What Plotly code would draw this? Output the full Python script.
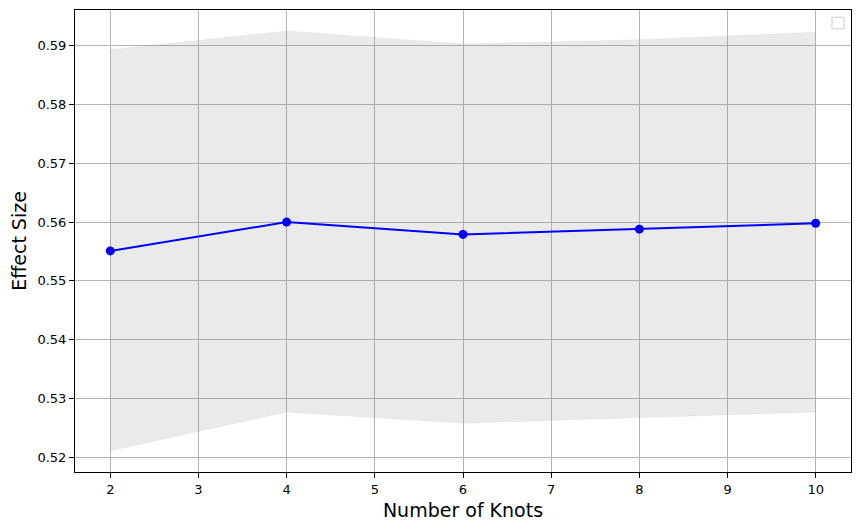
import plotly.graph_objects as go

knots = [2, 4, 6, 8, 10]
effect_mean = [0.5551, 0.5600, 0.5579, 0.5588, 0.5598]
effect_upper = [0.5893, 0.5925, 0.5903, 0.5910, 0.5923]
effect_lower = [0.5211, 0.5277, 0.5258, 0.5268, 0.5277]
x_ticks = [2, 3, 4, 5, 6, 7, 8, 9, 10]
y_ticks = [0.52, 0.53, 0.54, 0.55, 0.56, 0.57, 0.58, 0.59]

band = "rgba(128,128,128,0.17)"
fig = go.Figure()
fig.add_trace(go.Scatter(x=knots, y=effect_lower, mode="lines",
                         line=dict(color="rgba(128,128,128,0.08)", width=1),
                         showlegend=False, hoverinfo="skip"))
fig.add_trace(go.Scatter(x=knots, y=effect_upper, mode="lines", fill="tonexty",
                         fillcolor=band,
                         line=dict(color="rgba(128,128,128,0.08)", width=1),
                         showlegend=False, hoverinfo="skip"))
fig.add_trace(go.Scatter(x=knots, y=effect_mean, mode="lines+markers",
                         line=dict(color="#0000ff", width=2),
                         marker=dict(color="#0000ff", size=9),
                         showlegend=False))

font = "DejaVu Sans, sans-serif"
axis_common = dict(showgrid=True, gridcolor="#b4b4b4", gridwidth=1,
                   showline=True, linecolor="black", linewidth=1.1, mirror=True,
                   ticks="outside", ticklen=5, tickcolor="black", tickwidth=1.1,
                   zeroline=False, automargin=False,
                   tickfont=dict(family=font, size=13, color="black"))

fig.update_xaxes(range=[1.6, 10.4], tickvals=x_ticks,
                 title=dict(text="Number of Knots", font=dict(family=font, size=19, color="black"),
                            standoff=8),
                 **axis_common)
fig.update_yaxes(range=[0.51750, 0.59607], tickvals=y_ticks, tickformat=".2f",
                 title=dict(text="Effect Size", font=dict(family=font, size=19, color="black"),
                            standoff=11),
                 **axis_common)

fig.add_shape(type="rect", xref="paper", yref="paper",
              x0=0.9755, x1=0.991, y0=0.9595, y1=0.9842,
              line=dict(color="#cccccc", width=1), fillcolor="white")

# page body has an 8px margin, so the figure is sized/offset to compensate
fig.update_layout(width=852, height=522,
                  margin=dict(l=67, r=9, t=2, b=58, autoexpand=False),
                  plot_bgcolor="white", paper_bgcolor="white",
                  font=dict(family=font), showlegend=False)

fig.write_html("out.html")
